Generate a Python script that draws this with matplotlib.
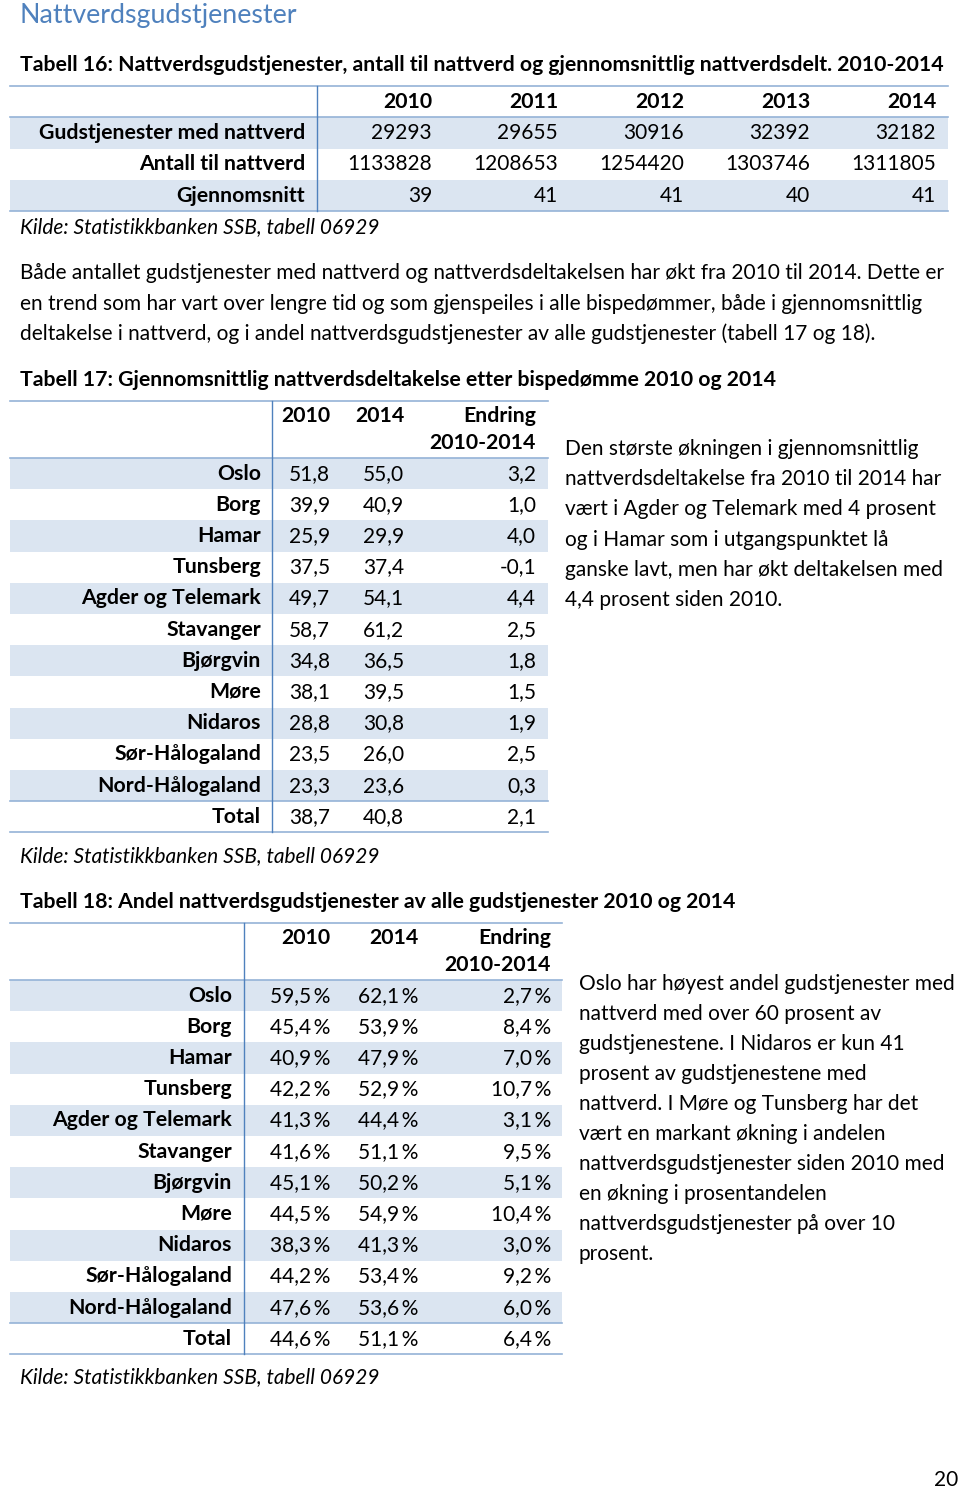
import matplotlib.pyplot as plt
from matplotlib.patches import Rectangle

plt.rcParams['font.family'] = ['Lato', 'DejaVu Sans']

# Tabell 16
years16 = ['2010', '2011', '2012', '2013', '2014']
rows16 = ['Gudstjenester med nattverd', 'Antall til nattverd', 'Gjennomsnitt']
gudstjenester = [29293, 29655, 30916, 32392, 32182]
antall = [1133828, 1208653, 1254420, 1303746, 1311805]
snitt = [39, 41, 41, 40, 41]

# Tabell 17 / 18
bispedommer = ['Oslo', 'Borg', 'Hamar', 'Tunsberg', 'Agder og Telemark', 'Stavanger',
               'Bjørgvin', 'Møre', 'Nidaros', 'Sør-Hålogaland', 'Nord-Hålogaland', 'Total']
delt_2010 = [51.8, 39.9, 25.9, 37.5, 49.7, 58.7, 34.8, 38.1, 28.8, 23.5, 23.3, 38.7]
delt_2014 = [55.0, 40.9, 29.9, 37.4, 54.1, 61.2, 36.5, 39.5, 30.8, 26.0, 23.6, 40.8]
delt_endring = [3.2, 1.0, 4.0, -0.1, 4.4, 2.5, 1.8, 1.5, 1.9, 2.5, 0.3, 2.1]
andel_2010 = [59.5, 45.4, 40.9, 42.2, 41.3, 41.6, 45.1, 44.5, 38.3, 44.2, 47.6, 44.6]
andel_2014 = [62.1, 53.9, 47.9, 52.9, 44.4, 51.1, 50.2, 54.9, 41.3, 53.4, 53.6, 51.1]
andel_endring = [2.7, 8.4, 7.0, 10.7, 3.1, 9.5, 5.1, 10.4, 3.0, 9.2, 6.0, 6.4]

SHADE = '#dbe5f1'
LINE = '#95b3d7'
VLINE = '#4f81bd'
FS = 15.0
FSB = 15.3


def komma(v):
    return f'{v:.1f}'.replace('.', ',')


fig = plt.figure(figsize=(9.6, 14.9), dpi=100)
ax = fig.add_axes([0, 0, 1, 1])
ax.set_xlim(0, 960)
ax.set_ylim(1490, 0)
ax.axis('off')


def txt(x, y, s, ha='left', weight='normal', style='normal', size=None, color='black'):
    if size is None:
        size = FSB if weight == 'bold' else FS
    ax.text(x, y, s, ha=ha, va='center', fontsize=size, fontweight=weight,
            fontstyle=style, color=color)


def hline(y, x0, x1):
    ax.plot([x0, x1], [y, y], color=LINE, lw=1.2)


def shade(y0, y1, x0, x1):
    ax.add_patch(Rectangle((x0, y0), x1 - x0, y1 - y0, color=SHADE, lw=0))


# heading
txt(20, 15, 'Nattverdsgudstjenester', size=19.3, color='#4f81bd')

# ---- Tabell 16 ----
txt(20, 65, 'Tabell 16: Nattverdsgudstjenester, antall til nattverd og gjennomsnittlig '
    'nattverdsdelt. 2010-2014', weight='bold')
t16_top, t16_h = 86, 31.3
col16 = [432, 558, 684, 810, 936]
hline(t16_top, 10, 948)
for i, yr in enumerate(years16):
    txt(col16[i], t16_top + t16_h / 2, yr, ha='right', weight='bold')
vals16 = [gudstjenester, antall, snitt]
for r, lab in enumerate(rows16):
    y0 = t16_top + t16_h * (r + 1)
    if r % 2 == 0:
        shade(y0, y0 + t16_h, 10, 948)
    if r == 0:
        hline(y0, 10, 948)
    txt(305, y0 + t16_h / 2, lab, ha='right', weight='bold')
    for i, v in enumerate(vals16[r]):
        txt(col16[i], y0 + t16_h / 2, str(v), ha='right')
t16_bot = t16_top + t16_h * 4
hline(t16_bot, 10, 948)
ax.plot([317, 317], [t16_top, t16_bot], color=VLINE, lw=1)
txt(20, 227, 'Kilde: Statistikkbanken SSB, tabell 06929', style='italic')

para = ['Både antallet gudstjenester med nattverd og nattverdsdeltakelsen har økt fra 2010 til 2014. Dette er',
        'en trend som har vart over lengre tid og som gjenspeiles i alle bispedømmer, både i gjennomsnittlig',
        'deltakelse i nattverd, og i andel nattverdsgudstjenester av alle gudstjenester (tabell 17 og 18).']
for i, line in enumerate(para):
    txt(20, 273 + 30.5 * i, line)


def region_table(top, left, right, vx, labx, cols, c1, c2, c3, fmt):
    h = 31.2
    hline(top, left, right)
    txt(cols[0], top + 15, '2010', ha='right', weight='bold')
    txt(cols[1], top + 15, '2014', ha='right', weight='bold')
    txt(cols[2], top + 15, 'Endring', ha='right', weight='bold')
    txt(cols[2], top + 42, '2010-2014', ha='right', weight='bold')
    y = top + 57
    hline(y, left, right)
    for r, lab in enumerate(bispedommer):
        y0 = y + h * r
        if r % 2 == 0 and r < len(bispedommer) - 1:
            shade(y0, y0 + h, left, right)
        if r == len(bispedommer) - 1:
            hline(y0, left, right)
        yc = y0 + h / 2
        txt(labx, yc, lab, ha='right', weight='bold')
        txt(cols[0], yc, fmt(c1[r]), ha='right')
        txt(cols[1], yc, fmt(c2[r]), ha='right')
        txt(cols[2], yc, fmt(c3[r]), ha='right')
    bot = y + h * len(bispedommer)
    hline(bot, left, right)
    ax.plot([vx, vx], [top, bot], color=VLINE, lw=1)
    return bot


# ---- Tabell 17 ----
txt(20, 380, 'Tabell 17: Gjennomsnittlig nattverdsdeltakelse etter bispedømme 2010 og 2014', weight='bold')
region_table(401, 10, 548, 272, 261, [330, 404, 536], delt_2010, delt_2014, delt_endring, komma)
txt(20, 856, 'Kilde: Statistikkbanken SSB, tabell 06929', style='italic')
side17 = ['Den største økningen i gjennomsnittlig', 'nattverdsdeltakelse fra 2010 til 2014 har',
          'vært i Agder og Telemark med 4 prosent', 'og i Hamar som i utgangspunktet lå',
          'ganske lavt, men har økt deltakelsen med', '4,4 prosent siden 2010.']
for i, line in enumerate(side17):
    txt(565, 449 + 30.2 * i, line)

# ---- Tabell 18 ----
txt(20, 902, 'Tabell 18: Andel nattverdsgudstjenester av alle gudstjenester 2010 og 2014', weight='bold')
region_table(923, 10, 562, 244, 232, [330, 418, 551], andel_2010, andel_2014, andel_endring,
             lambda v: komma(v) + '\u2009%')
txt(20, 1377, 'Kilde: Statistikkbanken SSB, tabell 06929', style='italic')
side18 = ['Oslo har høyest andel gudstjenester med', 'nattverd med over 60 prosent av',
          'gudstjenestene. I Nidaros er kun 41', 'prosent av gudstjenestene med',
          'nattverd. I Møre og Tunsberg har det', 'vært en markant økning i andelen',
          'nattverdsgudstjenester siden 2010 med', 'en økning i prosentandelen',
          'nattverdsgudstjenester på over 10', 'prosent.']
for i, line in enumerate(side18):
    txt(579, 984 + 30.0 * i, line)

txt(958, 1480, '20', ha='right')

fig.savefig('out.png', dpi=100)
